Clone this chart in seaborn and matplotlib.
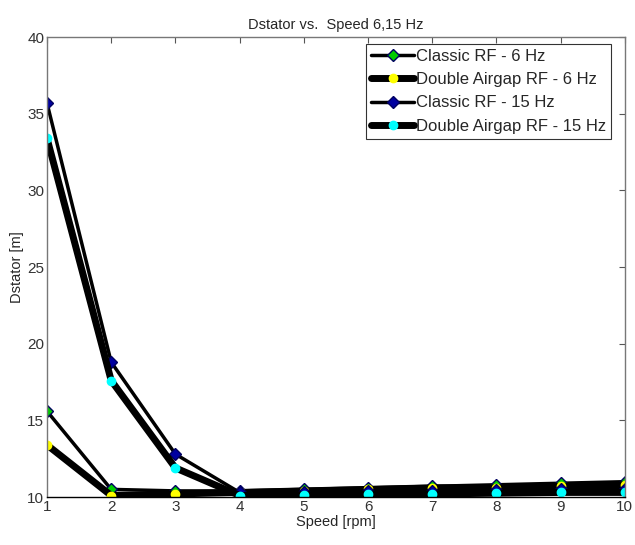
import matplotlib
matplotlib.use("Agg")
import matplotlib.pyplot as plt
import seaborn as sns
import pandas as pd

speed = [1, 2, 3, 4, 5, 6, 7, 8, 9, 10]
classic_6 = [15.6, 10.5, 10.4, 10.4, 10.5, 10.6, 10.7, 10.8, 10.9, 11.0]
double_6 = [13.4, 10.1, 10.2, 10.3, 10.4, 10.5, 10.6, 10.6, 10.7, 10.8]
classic_15 = [35.7, 18.8, 12.8, 10.3, 10.35, 10.4, 10.4, 10.45, 10.5, 10.5]
double_15 = [33.4, 17.6, 11.9, 10.1, 10.15, 10.2, 10.2, 10.25, 10.3, 10.3]

sns.set_style("white")
plt.rcParams['font.family'] = ['Liberation Sans', 'DejaVu Sans']

fig = plt.figure(figsize=(6.35, 5.45), dpi=100)
ax = fig.add_axes([0.074, 0.088, 0.91, 0.844])

series = [
    ("Classic RF - 6 Hz", classic_6, "D", "#00cc00", 2.5, 6),
    ("Double Airgap RF - 6 Hz", double_6, "o", "#ffff00", 5, 6),
    ("Classic RF - 15 Hz", classic_15, "D", "#0000a0", 2.5, 6),
    ("Double Airgap RF - 15 Hz", double_15, "o", "#00ffff", 5, 6),
]

for name, vals, mk, col, lw, ms in series:
    df = pd.DataFrame({"Speed": speed, "Dstator": vals})
    sns.lineplot(data=df, x="Speed", y="Dstator", ax=ax, color="black",
                 linewidth=lw, marker=mk, markersize=ms,
                 markerfacecolor=col, markeredgecolor=col if mk == "o" else "#000060",
                 markeredgewidth=1, label=name)

ax.set_xlim(1, 10)
ax.set_ylim(10, 40)
ax.set_xticks(speed)
ax.set_yticks([10, 15, 20, 25, 30, 35, 40])
ax.tick_params(direction="in", top=True, right=True, length=4, labelsize=11,
               colors="#555555", labelcolor="#333333", pad=2)
for s in ax.spines.values():
    s.set_color("#777777")
    s.set_linewidth(1)
ax.spines["bottom"].set_color("black")
ax.set_xlabel("Speed [rpm]", fontsize=10.5, labelpad=1)
ax.set_ylabel("Dstator [m]", fontsize=10.5, labelpad=2)
ax.set_title("Dstator vs.  Speed 6,15 Hz", fontsize=10.5, pad=6)
leg = ax.legend(loc="upper right", fontsize=12, frameon=True, fancybox=False,
                edgecolor="black", handlelength=2.6, borderaxespad=0.4,
                labelspacing=0.5, handletextpad=0.1, borderpad=0.3,
                bbox_to_anchor=(0.988, 1.0))
leg.get_frame().set_linewidth(0.8)

fig.savefig("out.png", dpi=100)
